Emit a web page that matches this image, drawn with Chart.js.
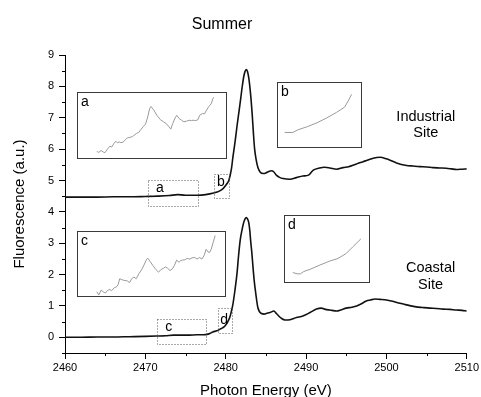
<!DOCTYPE html>
<html>
<head>
<meta charset="utf-8">
<title>Summer</title>
<script src="https://cdn.jsdelivr.net/npm/chart.js@4.4.0/dist/chart.umd.min.js"></script>
<style>
  html, body { margin: 0; padding: 0; background: #fff; }
  #wrap { position: relative; width: 481px; height: 397px; }
  #main { display: block; }
  .inset { position: absolute; background: #fff; border: 1px solid #3a3a3a; box-sizing: border-box; }
  .inset canvas { display: block; }
</style>
</head>
<body>
<div id="wrap">
  <canvas id="main" width="481" height="397"></canvas>
</div>
<script>
const FONT = "'Liberation Sans', Arial, sans-serif";

// Spectre site industriel (eV / u.a.)
const industrialEnergy = [2460, 2462, 2464, 2466, 2468, 2470, 2471.5, 2473, 2474, 2475, 2476.5, 2477.5, 2478.5, 2479.2, 2479.7,
    2480.1, 2480.4, 2480.7, 2480.9, 2481.2, 2481.4, 2481.6, 2481.85, 2482.05, 2482.26, 2482.4, 2482.55, 2482.7, 2482.85,
    2483.0, 2483.15, 2483.3, 2483.45, 2483.6, 2483.8, 2484.0, 2484.25, 2484.7, 2485.0, 2485.3, 2485.7, 2486.0, 2486.3,
    2486.7, 2487.15, 2488.0, 2488.8, 2489.6, 2490.3, 2490.9, 2491.7, 2492.3, 2492.96, 2493.8, 2494.6, 2495.3, 2495.9,
    2496.5, 2497.1, 2497.7, 2498.35, 2499.2, 2500.0, 2500.6, 2501.25, 2502.5, 2503.3, 2504.15, 2505.0, 2505.8, 2506.6,
    2507.45, 2508.1, 2508.7, 2509.4, 2510];
const industrialSignal = [4.47, 4.47, 4.47, 4.48, 4.48, 4.49, 4.50, 4.52, 4.55, 4.53, 4.53, 4.55, 4.60, 4.66, 4.75,
    4.88, 5.01, 5.35, 5.75, 6.3, 6.72, 7.1, 7.58, 7.98, 8.33, 8.47, 8.54, 8.48, 8.3,
    8.0, 7.6, 7.1, 6.5, 6.0, 5.65, 5.42, 5.28, 5.22, 5.24, 5.28, 5.31, 5.27, 5.17,
    5.1, 5.06, 5.04, 5.09, 5.14, 5.17, 5.33, 5.40, 5.42, 5.40, 5.36, 5.41, 5.44, 5.49,
    5.55, 5.60, 5.65, 5.71, 5.74, 5.69, 5.63, 5.56, 5.48, 5.46, 5.44, 5.43, 5.41, 5.40,
    5.39, 5.37, 5.35, 5.36, 5.37];

// Spectre site côtier
const coastalEnergy = [2460, 2462, 2464, 2466, 2468, 2470, 2471.4, 2472.5, 2473.5, 2474.5, 2475.5, 2476.4, 2477.2, 2477.9,
    2478.4, 2478.9, 2479.3, 2479.6, 2479.9, 2480.2, 2480.5, 2480.7, 2480.9, 2481.15, 2481.4, 2481.6, 2481.8, 2482.05,
    2482.26, 2482.4, 2482.55, 2482.7, 2482.85, 2483.0, 2483.1, 2483.25, 2483.4, 2483.55, 2483.75, 2484.0, 2484.45,
    2484.8, 2485.05, 2485.5, 2486.0, 2486.3, 2486.6, 2486.9, 2487.4, 2488.0, 2488.8, 2489.6, 2490.5, 2491.3, 2491.9,
    2492.4, 2492.96, 2493.8, 2494.4, 2495.0, 2495.7, 2496.3, 2496.9, 2497.5, 2498.0, 2498.6, 2499.2, 2499.8, 2500.6,
    2501.3, 2502.1, 2502.9, 2503.7, 2504.5, 2505.4, 2506.2, 2507.05, 2507.9, 2508.7, 2509.4, 2510];
const coastalSignal = [0.0, 0.0, 0.01, 0.01, 0.02, 0.03, 0.04, 0.05, 0.07, 0.07, 0.07, 0.08, 0.08, 0.11,
    0.17, 0.21, 0.26, 0.3, 0.36, 0.47, 0.63, 0.82, 1.06, 1.5, 2.02, 2.6, 3.09, 3.45,
    3.68, 3.77, 3.82, 3.78, 3.68, 3.4, 3.09, 2.7, 2.23, 1.8, 1.38, 0.95, 0.76,
    0.74, 0.76, 0.79, 0.84, 0.76, 0.68, 0.61, 0.55, 0.56, 0.63, 0.68, 0.79, 0.90, 0.93,
    0.89, 0.87, 0.84, 0.88, 0.93, 0.96, 1.0, 1.07, 1.16, 1.19, 1.22, 1.21, 1.2, 1.16,
    1.11, 1.06, 1.01, 0.97, 0.95, 0.93, 0.92, 0.90, 0.89, 0.87, 0.86, 0.84];

// Graduations
const xTicks = [2460, 2470, 2480, 2490, 2500, 2510];
const yTicks = [0, 1, 2, 3, 4, 5, 6, 7, 8, 9];

// Encarts (position relative 0-100 dans chaque encart)
const insetA_x = [12.7, 14.0, 15.6, 17.1, 18.2, 20.0, 21.6, 22.7, 24.4, 25.6, 26.7, 27.8, 28.9, 30.4, 32.2, 33.3, 35.1, 36.7,
    37.8, 39.6, 41.1, 42.2, 44.0, 45.6, 47.1, 48.4, 49.3, 51.1, 53.3, 55.6, 57.8, 59.6, 61.1, 62.7, 64.0, 65.6, 66.7,
    68.4, 70.0, 71.6, 73.3, 75.1, 76.7, 77.8, 79.6, 81.1, 82.2, 84.0, 85.6, 86.7, 88.4, 90.0, 91.1, 91.6];
const insetA_y = [10.1, 8.6, 11.6, 9.1, 8.1, 14.1, 18.2, 16.7, 22.7, 25.8, 23.2, 24.7, 23.7, 24.2, 28.8, 30.8, 31.8, 32.8,
    34.8, 37.9, 39.4, 42.9, 48.0, 52.0, 63.1, 75.8, 79.3, 74.2, 65.7, 59.1, 55.6, 53.0, 49.0, 44.4, 53.0, 61.6, 65.7,
    60.6, 58.1, 55.6, 56.6, 58.1, 57.6, 58.1, 57.6, 59.1, 65.7, 68.2, 68.2, 73.2, 79.3, 83.3, 90.9, 93.4];
const insetB_x = [8.1, 17.9, 23.7, 35.4, 47.1, 58.8, 70.4, 80.1, 84.0, 88.7];
const insetB_y = [22.7, 22.7, 26.7, 31.8, 37.9, 45.5, 54.0, 62.1, 70.7, 82.3];
const insetC_x = [12.8, 14.1, 15.7, 17.2, 18.6, 20.1, 21.7, 22.8, 24.6, 26.2, 27.3, 28.4, 29.8, 31.3, 33.6, 35.1, 36.5,
    38.0, 39.6, 41.4, 43.6, 45.2, 46.5, 47.4, 49.2, 51.0, 53.0, 54.8, 56.4, 58.2, 59.5, 60.9, 62.6, 64.2, 65.5, 67.1,
    68.7, 69.8, 71.1, 72.7, 74.3, 76.1, 77.6, 79.4, 81.0, 82.8, 84.3, 85.7, 87.2, 88.4, 89.5, 90.6, 92.2, 93.3];
const insetC_y = [6.6, 1.5, 9.2, 6.6, 4.6, 8.7, 10.2, 8.2, 12.8, 14.3, 17.9, 27.0, 25.5, 24.5, 23.5, 20.9, 27.0,
    29.6, 27.0, 34.7, 42.3, 50.0, 56.6, 59.2, 53.6, 47.4, 41.3, 37.2, 41.3, 43.4, 45.4, 43.4, 39.8, 42.3, 47.4, 56.1,
    52.6, 55.1, 56.1, 56.6, 58.7, 57.7, 59.7, 60.2, 57.7, 60.2, 57.7, 62.8, 73.0, 68.9, 67.9, 73.0, 85.7, 94.4];
const insetD_x = [9.3, 14.4, 18.3, 22.2, 30.0, 41.6, 53.3, 63.0, 72.8, 80.5, 90.3];
const insetD_y = [14.4, 12.4, 12.4, 15.8, 19.3, 25.7, 31.7, 35.6, 43.1, 53.0, 65.3];

// Cadres pointillés (eV, u.a.)
const zoomBoxes = [
    { label: 'a', x0: 2470.36, x1: 2476.58, y0: 4.19, y1: 5.0, lx: 2471.8, ly: 4.62 },
    { label: 'b', x0: 2478.57, x1: 2480.36, y0: 4.45, y1: 5.2, lx: 2479.4, ly: 4.82 },
    { label: 'c', x0: 2471.4, x1: 2477.6, y0: -0.22, y1: 0.58, lx: 2472.9, ly: 0.2 },
    { label: 'd', x0: 2479.07, x1: 2480.73, y0: 0.15, y1: 0.93, lx: 2479.8, ly: 0.44 }
];

// Étiquettes de site
const siteLabels = [
    { text: 'Industrial', x: 2504.9, y: 6.89 },
    { text: 'Site', x: 2504.9, y: 6.38 },
    { text: 'Coastal', x: 2505.5, y: 2.09 },
    { text: 'Site', x: 2505.5, y: 1.54 }
];

// Emplacement des encarts (eV, u.a.)
const insets = [
    { label: 'a', x0: 2461.46, x1: 2480.11, y0: 5.70, y1: 7.82, xs: insetA_x, ys: insetA_y },
    { label: 'b', x0: 2486.33, x1: 2496.98, y0: 6.03, y1: 8.15, xs: insetB_x, ys: insetB_y },
    { label: 'c', x0: 2461.46, x1: 2479.99, y0: 1.28, y1: 3.39, xs: insetC_x, ys: insetC_y },
    { label: 'd', x0: 2487.28, x1: 2497.94, y0: 1.73, y1: 3.89, xs: insetD_x, ys: insetD_y }
];

function toPoints(xs, ys) { return xs.map((v, i) => ({ x: v, y: ys[i] })); }

// ============================================
// PLUGINS
// ============================================
const minorTicks = {
    id: 'minorTicks',
    afterDraw(chart) {
        const { ctx, chartArea, scales: { x, y } } = chart;
        ctx.save();
        ctx.strokeStyle = '#000';
        ctx.lineWidth = 1;
        ctx.beginPath();
        for (let v = -0.5; v < 9; v += 1) {
            const py = Math.round(y.getPixelForValue(v)) + 0.5;
            ctx.moveTo(chartArea.left - 3, py);
            ctx.lineTo(chartArea.left, py);
        }
        for (let v = 2465; v < 2510; v += 10) {
            const px = Math.round(x.getPixelForValue(v)) + 0.5;
            ctx.moveTo(px, chartArea.bottom);
            ctx.lineTo(px, chartArea.bottom + 3);
        }
        ctx.stroke();
        ctx.restore();
    }
};

const annotate = {
    id: 'annotate',
    afterDatasetsDraw(chart) {
        const { ctx, scales: { x, y } } = chart;
        ctx.save();
        ctx.strokeStyle = '#555';
        ctx.lineWidth = 1;
        ctx.setLineDash([1, 2]);
        zoomBoxes.forEach(b => {
            const l = Math.round(x.getPixelForValue(b.x0)) + 0.5;
            const r = Math.round(x.getPixelForValue(b.x1)) + 0.5;
            const t = Math.round(y.getPixelForValue(b.y1)) + 0.5;
            const bt = Math.round(y.getPixelForValue(b.y0)) + 0.5;
            ctx.strokeRect(l, t, r - l, bt - t);
        });
        ctx.setLineDash([]);
        ctx.fillStyle = '#000';
        ctx.textAlign = 'center';
        ctx.textBaseline = 'alphabetic';
        ctx.font = `14px ${FONT}`;
        zoomBoxes.forEach(b => ctx.fillText(b.label, x.getPixelForValue(b.lx), y.getPixelForValue(b.ly)));
        ctx.font = `14.5px ${FONT}`;
        siteLabels.forEach(s => ctx.fillText(s.text, x.getPixelForValue(s.x), y.getPixelForValue(s.y)));
        // titre
        ctx.font = `16px ${FONT}`;
        ctx.fillText('Summer', 222, 29);
        ctx.restore();
    }
};

const insetLabel = {
    id: 'insetLabel',
    afterDraw(chart, args, opts) {
        const { ctx } = chart;
        ctx.save();
        ctx.fillStyle = '#000';
        ctx.font = `14px ${FONT}`;
        ctx.textBaseline = 'alphabetic';
        ctx.fillText(opts.text || '', 3, 13);
        ctx.restore();
    }
};

// ============================================
// GRAPHIQUE PRINCIPAL
// ============================================
const lineStyle = {
    borderColor: '#111',
    borderWidth: 1.6,
    pointRadius: 0,
    cubicInterpolationMode: 'monotone',
    fill: false
};

const chart = new Chart(document.getElementById('main'), {
    type: 'line',
    data: {
        datasets: [
            { label: 'Industrial Site', data: toPoints(industrialEnergy, industrialSignal), ...lineStyle },
            { label: 'Coastal Site', data: toPoints(coastalEnergy, coastalSignal), ...lineStyle }
        ]
    },
    options: {
        responsive: false,
        animation: false,
        layout: { padding: { top: 55, right: 14, left: 0, bottom: 0 } },
        plugins: { legend: { display: false }, tooltip: { enabled: false } },
        scales: {
            x: {
                type: 'linear',
                min: 2460,
                max: 2510,
                afterBuildTicks: s => { s.ticks = xTicks.map(v => ({ value: v })); },
                ticks: { color: '#000', font: { family: FONT, size: 11 }, padding: 2, maxRotation: 0, callback: v => String(v) },
                grid: { drawOnChartArea: false, tickLength: 6, color: '#000' },
                border: { color: '#000', width: 1 },
                title: { display: true, text: 'Photon Energy (eV)', color: '#000', font: { family: FONT, size: 15 }, padding: { top: 0, bottom: -2.5 } },
                afterFit: s => { s.height = 44; }
            },
            y: {
                min: -0.5,
                max: 9,
                afterBuildTicks: s => { s.ticks = yTicks.map(v => ({ value: v })); },
                ticks: { color: '#000', font: { family: FONT, size: 11 }, padding: 5, callback: v => String(v) },
                grid: { drawOnChartArea: false, tickLength: 6, color: '#000' },
                border: { color: '#000', width: 1 },
                title: { display: true, text: 'Fluorescence (a.u.)', color: '#000', font: { family: FONT, size: 15 }, padding: { top: 11, bottom: 0 } },
                afterFit: s => { s.width = 65; }
            }
        }
    },
    plugins: [minorTicks, annotate]
});

// ============================================
// ENCARTS
// ============================================
const wrap = document.getElementById('wrap');
insets.forEach(ins => {
    const l = Math.round(chart.scales.x.getPixelForValue(ins.x0));
    const r = Math.round(chart.scales.x.getPixelForValue(ins.x1));
    const t = Math.round(chart.scales.y.getPixelForValue(ins.y1));
    const b = Math.round(chart.scales.y.getPixelForValue(ins.y0));
    const box = document.createElement('div');
    box.className = 'inset';
    box.style.left = l + 'px';
    box.style.top = t + 'px';
    box.style.width = (r - l) + 'px';
    box.style.height = (b - t) + 'px';
    const cv = document.createElement('canvas');
    cv.width = r - l - 2;
    cv.height = b - t - 2;
    box.appendChild(cv);
    wrap.appendChild(box);

    new Chart(cv, {
        type: 'line',
        data: { datasets: [{ data: toPoints(ins.xs, ins.ys), borderColor: '#9a9a9a', borderWidth: 1, pointRadius: 0, tension: 0 }] },
        options: {
            responsive: false,
            animation: false,
            layout: { padding: 0 },
            plugins: { legend: { display: false }, tooltip: { enabled: false }, insetLabel: { text: ins.label } },
            scales: {
                x: { type: 'linear', min: 0, max: 100, display: false },
                y: { min: 0, max: 100, display: false }
            }
        },
        plugins: [insetLabel]
    });
});
</script>
</body>
</html>
